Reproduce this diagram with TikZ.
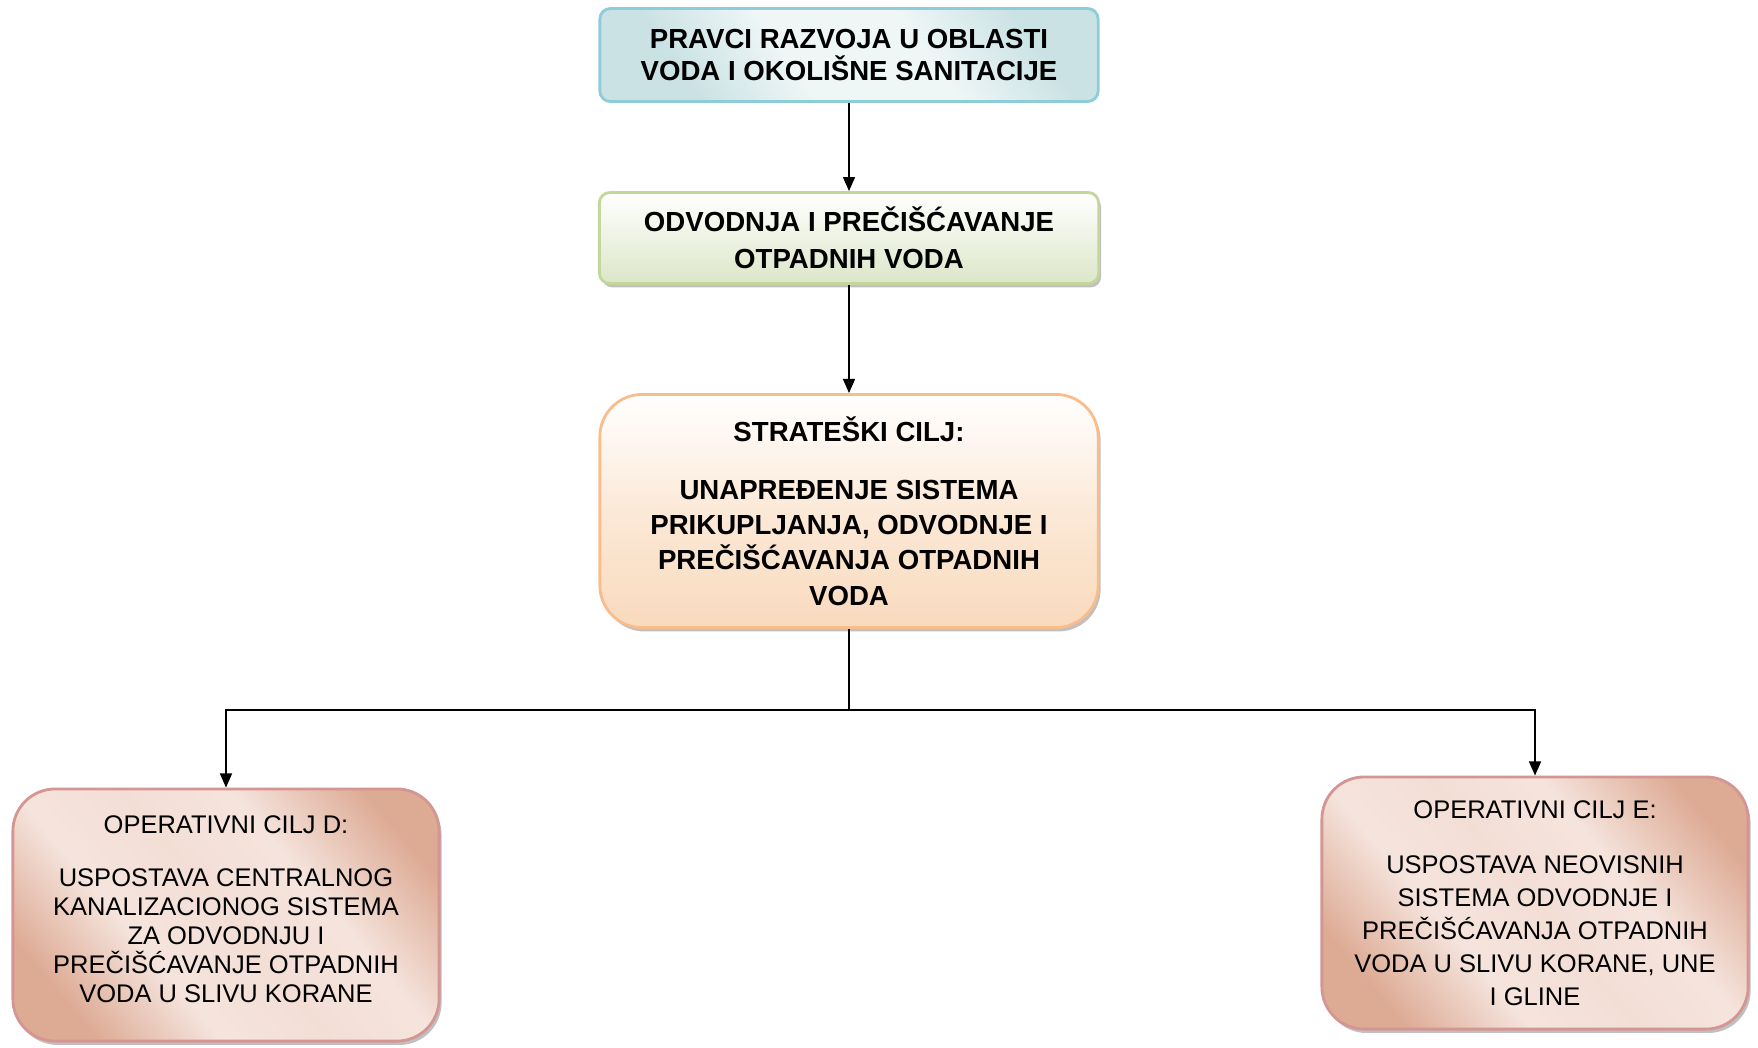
\documentclass[tikz,border=0pt]{standalone}
\usepackage{fontspec}
\setmainfont{Liberation Sans}
\usetikzlibrary{arrows.meta,shadows}
\definecolor{tealdark}{HTML}{CBE2E4}
\definecolor{teallight}{HTML}{EEF6F6}
\definecolor{tealline}{HTML}{8DCDDA}
\definecolor{greenline}{HTML}{C3D69B}
\definecolor{greenfill}{HTML}{DCE6C8}
\definecolor{orangeline}{HTML}{F9BD8C}
\definecolor{orangefill}{HTML}{F9DABD}
\definecolor{pinkline}{HTML}{D59592}
\definecolor{pinkdark}{HTML}{DDAA94}
\definecolor{pinklight}{HTML}{F5E4DD}
\pgfdeclarehorizontalshading{tealwave}{100bp}{color(0bp)=(tealdark); color(28bp)=(tealdark); color(42bp)=(teallight); color(60bp)=(teallight); color(74bp)=(tealdark); color(100bp)=(tealdark)}
\pgfdeclarehorizontalshading{pinkwave}{100bp}{color(0bp)=(pinkdark); color(24bp)=(pinkdark); color(38bp)=(pinklight); color(50bp)=(pinklight!90!pinkdark); color(62bp)=(pinklight); color(77bp)=(pinkdark); color(100bp)=(pinkdark)}

\begin{document}
\begin{tikzpicture}[x=0.01cm, y=-0.01cm,
		box/.style={draw, align=center, inner sep=0pt, line width=0.8pt},
		boldtext/.style={font=\fontsize{7.85}{9.2}\selectfont\bfseries},
		plaintext/.style={font=\fontsize{7.25}{8.3}\selectfont},
		shadowed/.style={drop shadow={shadow xshift=0.7pt, shadow yshift=-1.1pt, fill=black!55, opacity=0.45}},
		smerbox/.style={box, boldtext, rounded corners=3pt, draw=tealline, shading=tealwave, shading angle=35, minimum width=4.98cm, minimum height=0.93cm},
		podrucjebox/.style={box, boldtext, shadowed, rounded corners=3pt, draw=greenline, top color=white, bottom color=greenfill, minimum width=4.99cm, minimum height=0.91cm},
		ciljbox/.style={box, shadowed, rounded corners=12pt, draw=orangeline, top color=white, bottom color=orangefill, middle color=white!40!orangefill, minimum width=4.98cm, minimum height=2.33cm, font=\fontsize{7.85}{10}\selectfont\bfseries},
		opbox/.style={box, plaintext, shadowed, rounded corners=12pt, draw=pinkline, shading=pinkwave, shading angle=40, minimum width=4.26cm, minimum height=2.52cm},
		conn/.style={line width=0.45pt, -{Triangle[length=4pt,width=3.4pt]}},
		connline/.style={line width=0.45pt}]
			%%%%% START %%%%%
			
			\useasboundingbox (0, 0) rectangle (1758, 1047);
			
			\node[smerbox] (pravci) at (849, 55) {PRAVCI RAZVOJA U OBLASTI\\VODA I OKOLIŠNE SANITACIJE};
			\node[podrucjebox] (odvodnja) at (849, 238) {ODVODNJA I PREČIŠĆAVANJE\\[1.2pt]OTPADNIH VODA};
			\node[ciljbox] (cilj) at (849, 511) {STRATEŠKI CILJ:\\[6.5pt]UNAPREĐENJE SISTEMA\\PRIKUPLJANJA, ODVODNJE I\\PREČIŠĆAVANJA OTPADNIH\\VODA};
			
			\node[opbox] (ciljD) at (226, 915) {OPERATIVNI CILJ D:\\[6.7pt]USPOSTAVA CENTRALNOG\\KANALIZACIONOG SISTEMA\\ZA ODVODNJU I\\PREČIŠĆAVANJE OTPADNIH\\VODA U SLIVU KORANE\\[-5pt]};
			\node[opbox, font=\fontsize{7.25}{9.4}\selectfont] (ciljE) at (1535, 903) {OPERATIVNI CILJ E:\\[6.2pt]USPOSTAVA NEOVISNIH\\SISTEMA ODVODNJE I\\PREČIŠĆAVANJA OTPADNIH\\VODA U SLIVU KORANE, UNE\\I GLINE};
			
			\draw[conn] (pravci) -- (odvodnja);
			\draw[conn] (odvodnja) -- (cilj);
			
			\coordinate (grana) at (849, 710);
			\draw[connline] (cilj.south) -- (grana);
			\draw[conn] (grana) -| (ciljD.north);
			\draw[conn] (grana) -| (ciljE.north);
			
			%%%%% END %%%%%
		\end{tikzpicture}
\end{document}
